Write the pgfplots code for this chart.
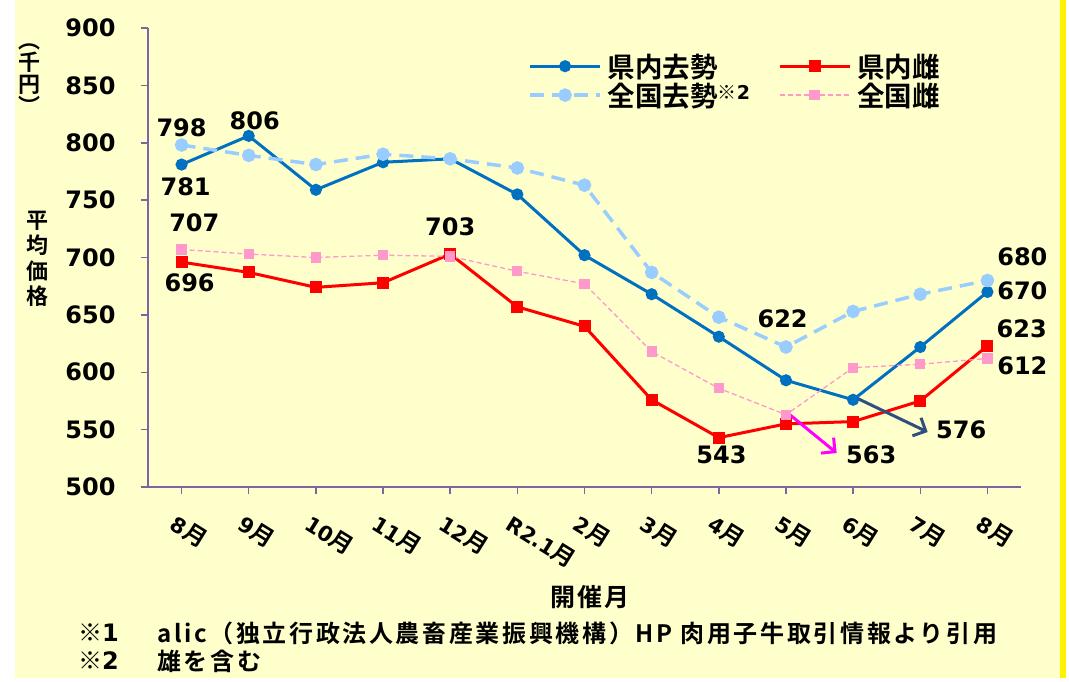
\documentclass[border=0pt]{standalone}
\usepackage{fontspec}
\setmainfont{Noto Sans CJK JP}[BoldFont={Noto Sans CJK JP Bold}]
\newfontfamily\numf{DejaVu Sans}[BoldFont={DejaVu Sans Bold}]
\usepackage{pgfplots}
\pgfplotsset{compat=1.18}
\usetikzlibrary{arrows.meta}
\definecolor{kenblue}{HTML}{0070C0}
\definecolor{zenblue}{HTML}{99CCFF}
\definecolor{kenred}{HTML}{FF0000}
\definecolor{zenpink}{HTML}{FF99CC}
\definecolor{axpurple}{HTML}{8064A2}
\definecolor{bgyellow}{HTML}{FFFFCC}
\definecolor{arrnavy}{HTML}{2F4F7F}
\definecolor{arrmag}{HTML}{FF00FF}
\newcommand{\numfont}{\numf\fontsize{24}{26}\selectfont\bfseries}
\newcommand{\M}[1]{{\numf\fontsize{21}{23}\selectfont\bfseries #1}月}
\begin{document}
\begin{tikzpicture}[x=1pt,y=1pt]
\fill[white] (-148,-194) rectangle (921,487);
\fill[bgyellow] (-133,-191) rectangle (912,487);
\fill[yellow] (912,-191) rectangle (918,487);
\begin{axis}[at={(0,0)}, anchor=south west, scale only axis,
  width=873pt, height=459pt,
  xmin=-0.5, xmax=12.5, ymin=500, ymax=900,
  ytick={500,550,...,900}, xtick={0,...,12},
  xticklabels={\M{8},\M{9},\M{10},\M{11},\M{12},\M{R2.1},\M{2},\M{3},\M{4},\M{5},\M{6},\M{7},\M{8}},
  axis lines=left,
  axis line style={-, draw=axpurple, line width=1.5pt},
  tick align=outside, major tick length=7pt,
  tick style={draw=axpurple, line width=1.5pt},
  /pgf/number format/assume math mode=true,
  yticklabel style={font=\numfont, xshift=-22pt},
  xticklabel style={font=\fontsize{23}{25}\selectfont\bfseries, rotate=-32, anchor=north west, yshift=-14pt, xshift=4pt},
  clip=false,
  legend columns=2,
  legend cell align=left,
  legend style={at={(0.432,0.953)}, anchor=north west, draw=none, fill=none,
    font=\fontsize{27.5}{35}\selectfont\bfseries,
    /tikz/every even column/.append style={column sep=26pt},
    /tikz/every odd column/.append style={column sep=4pt}},
  legend image code/.code={\draw[mark repeat=2,mark phase=2,#1] plot coordinates {(0pt,0pt) (35pt,0pt) (70pt,0pt)};},
]
\addplot[kenblue, line width=3pt, mark=*, mark size=4.5pt] coordinates {
(0,781) (1,806) (2,759) (3,783) (4,786) (5,755) (6,702) (7,668) (8,631) (9,593) (10,576) (11,622) (12,670)};
\addlegendentry{県内去勢}
\addplot[kenred, line width=3pt, mark=square*, mark size=4.5pt] coordinates {
(0,696) (1,687) (2,674) (3,678) (4,703) (5,657) (6,640) (7,576) (8,543) (9,555) (10,557) (11,575) (12,623)};
\addlegendentry{県内雌}
\addplot[zenblue, line width=3.5pt, dash pattern=on 14pt off 8pt, mark=*, mark size=5pt, mark options={solid}] coordinates {
(0,798) (1,789) (2,781) (3,790) (4,786) (5,778) (6,763) (7,687) (8,648) (9,622) (10,653) (11,668) (12,680)};
\addlegendentry{全国去勢\raisebox{0.45ex}{\fontsize{19}{19}\selectfont ※{\numf\bfseries 2}}}
\addplot[zenpink, line width=1.3pt, dash pattern=on 5pt off 3pt, mark=square*, mark size=4.5pt, mark options={solid}] coordinates {
(0,707) (1,703) (2,700) (3,702) (4,701) (5,688) (6,677) (7,618) (8,586) (9,563) (10,604) (11,607) (12,612)};
\addlegendentry{全国雌}
\draw[arrmag, line width=3pt, -{Straight Barb[length=10pt,width=20pt]}] (axis cs:9.026,564.5) -- (axis cs:9.755,529.6);
\draw[arrnavy, line width=3pt, -{Straight Barb[length=10pt,width=20pt]}] (axis cs:10.05,577.6) -- (axis cs:11.11,547.9);
\begin{scope}[every node/.style={font=\numfont, inner sep=0pt}]
\node at (axis cs:0,812.9) {798};
\node at (axis cs:0.06,761.4) {781};
\node at (axis cs:1.09,819.0) {806};
\node at (axis cs:0.19,730.1) {707};
\node at (axis cs:0.12,677.8) {696};
\node at (axis cs:4.0,726.6) {703};
\node at (axis cs:8.04,527.9) {543};
\node at (axis cs:8.95,646.4) {622};
\node at (axis cs:10.27,527.9) {563};
\node at (axis cs:11.61,549.7) {576};
\node at (axis cs:12.52,700.4) {680};
\node at (axis cs:12.52,670.8) {670};
\node at (axis cs:12.51,637.7) {623};
\node at (axis cs:12.52,605.4) {612};
\end{scope}
\end{axis}
\node[font=\fontsize{25}{27}\selectfont\bfseries\addfontfeature{LetterSpace=8}] at (442,-110) {開催月};
\node[font=\fontsize{24}{26}\selectfont\bfseries\addfontfeature{LetterSpace=6}, anchor=west, inner sep=0pt] at (-70,-146) {※{\numf\bfseries 1}};
\node[font=\fontsize{24}{26}\selectfont\bfseries\addfontfeature{LetterSpace=11}, anchor=west, inner sep=0pt] at (9,-146) {alic（独立行政法人農畜産業振興機構）HP 肉用子牛取引情報より引用};
\node[font=\fontsize{24}{26}\selectfont\bfseries\addfontfeature{LetterSpace=6}, anchor=west, inner sep=0pt] at (-70,-174) {※{\numf\bfseries 2}};
\node[font=\fontsize{24}{26}\selectfont\bfseries\addfontfeature{LetterSpace=11}, anchor=west, inner sep=0pt] at (9,-174) {雄を含む};
\node[font=\fontsize{22}{22}\selectfont\bfseries, align=center, inner sep=0pt] at (-118,408) {︵\\千\\円\\︶};
\node[font=\fontsize{22}{25.5}\selectfont\bfseries, align=center, inner sep=0pt] at (-110.5,228) {平\\均\\価\\格};
\end{tikzpicture}
\end{document}
